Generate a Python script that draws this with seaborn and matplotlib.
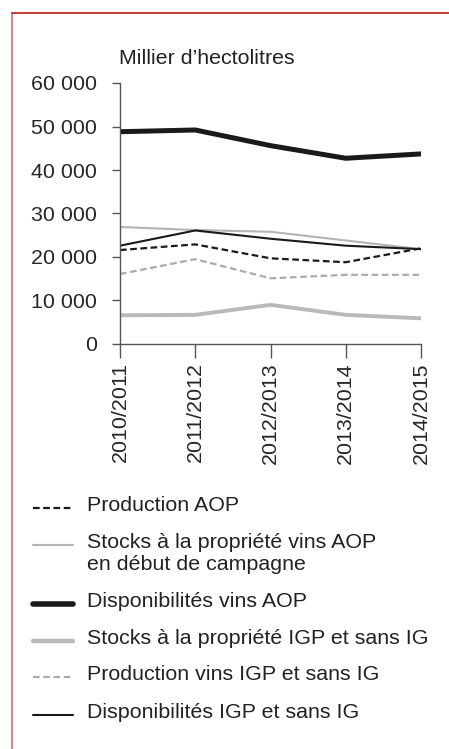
import matplotlib
matplotlib.use("Agg")
import matplotlib.pyplot as plt
import matplotlib.lines as mlines
import seaborn as sns
import pandas as pd

# data (milliers d'hectolitres)
campagnes = ["2010/2011", "2011/2012", "2012/2013", "2013/2014", "2014/2015"]
production_aop = [21600, 22900, 19700, 18800, 22000]
stocks_aop = [26900, 26200, 25800, 23800, 21800]
dispo_aop = [48800, 49200, 45600, 42700, 43700]
stocks_igp = [6600, 6700, 9000, 6700, 5900]
production_igp = [16100, 19500, 15100, 15900, 15900]
dispo_igp = [22600, 26100, 24200, 22600, 21800]

labels = ["Production AOP",
          "Stocks à la propriété vins AOP\nen début de campagne",
          "Disponibilités vins AOP",
          "Stocks à la propriété IGP et sans IG",
          "Production vins IGP et sans IG",
          "Disponibilités IGP et sans IG"]
series = [production_aop, stocks_aop, dispo_aop, stocks_igp, production_igp, dispo_igp]

# style per series: colour, width, dashes
styles = [("#1a1a1a", 1.6, (3, 1.6)),
          ("#b4b4b4", 1.5, None),
          ("#1a1a1a", 3.6, None),
          ("#b9b9b9", 2.8, None),
          ("#ababab", 1.6, (3, 1.6)),
          ("#1a1a1a", 1.5, None)]

# legend rows: top of text (px from top) in the panel below the chart
legend_rows = [496, 533, 592, 629, 665, 703]

W, H = 449, 749
sns.set_style("white")
plt.rcParams['font.family'] = ['Liberation Sans', 'DejaVu Sans']

fig = plt.figure(figsize=(W / 100, H / 100), dpi=100)
ax = fig.add_axes([120 / W, 1 - 344 / H, 301 / W, 261 / H])

x = list(range(len(campagnes)))
for lab, vals, (col, lw, dash) in zip(labels, series, styles):
    df = pd.DataFrame({"x": x, "y": vals})
    kw = dict(color=col, linewidth=lw)
    if dash:
        kw["dashes"] = dash
    sns.lineplot(data=df, x="x", y="y", ax=ax, **kw)

ax.set_xlim(0, 4)
ax.set_ylim(0, 60000)
ax.set_yticks(range(0, 60001, 10000))
ax.set_yticklabels([f"{v:,}".replace(",", " ") for v in range(0, 60001, 10000)])
ax.set_xticks(x)
ax.set_xticklabels(campagnes, rotation=90)
ax.set_xlabel("")
ax.set_ylabel("")

for s in ["top", "right"]:
    ax.spines[s].set_visible(False)
for s in ["left", "bottom"]:
    ax.spines[s].set_color("#555555")
    ax.spines[s].set_linewidth(1.0)
ax.tick_params(axis="y", length=5.5, width=1, color="#555555", labelsize=15.4, pad=11, left=True)
ax.tick_params(axis="x", length=10, width=1, color="#555555", labelsize=15.4, pad=3, bottom=True)
ax.grid(False)

fig.text(119 / W, 1 - 59 / H, "Millier d\u2019hectolitres", fontsize=15.4,
         ha="left", va="center", color="#222222")

# legend drawn by hand: short line sample + label
for top, lab, (col, lw, dash) in zip(legend_rows, labels, styles):
    yc = 1 - (top + 12) / H
    h = mlines.Line2D([33 / W, 73 / W], [yc, yc], transform=fig.transFigure,
                      color=col, linewidth=lw + 0.4 if lw > 2 else lw)
    if dash:
        h.set_dashes(dash)
    fig.add_artist(h)
    fig.text(87 / W, 1 - top / H, lab, fontsize=15.4, ha="left", va="top",
             color="#222222", linespacing=1.2)

# frame lines of the figure panel
fig.add_artist(mlines.Line2D([12 / W, 12 / W], [0, 1 - 13 / H],
                             transform=fig.transFigure, color="#d88585", linewidth=1.5))
fig.add_artist(mlines.Line2D([12 / W, 1], [1 - 13 / H, 1 - 13 / H],
                             transform=fig.transFigure, color="#c0463c", linewidth=1.5))

fig.savefig("out.png", dpi=100)
